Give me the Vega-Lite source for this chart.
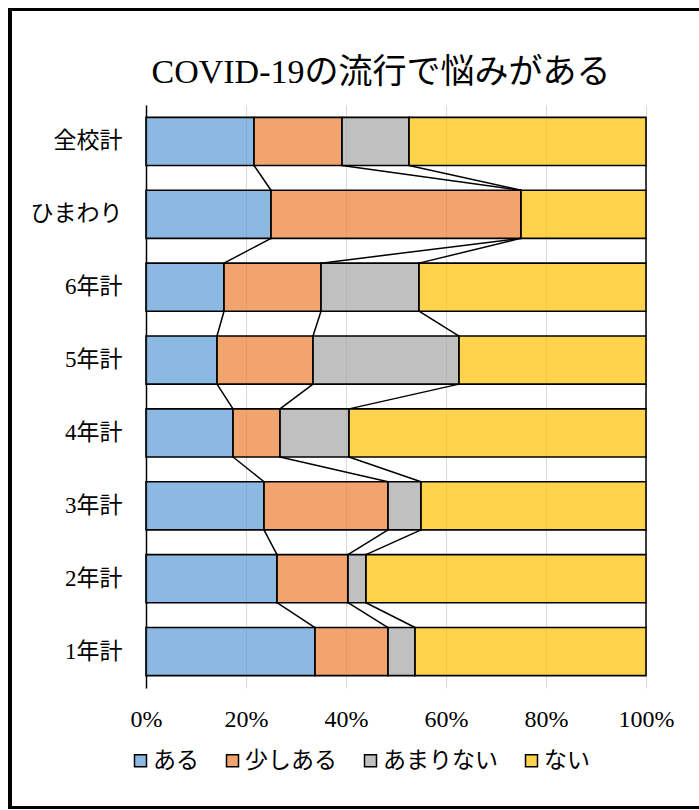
{
  "$schema": "https://vega.github.io/schema/vega-lite/v6.json",
  "width": 500,
  "height": 583,
  "autosize": {"type": "none"},
  "padding": {"left": 146, "top": 105, "right": 53, "bottom": 122},
  "background": "white",
  "title": {
    "text": "COVID-19の流行で悩みがある",
    "font": "Liberation Serif, Noto Sans CJK JP",
    "fontSize": 34,
    "fontWeight": "normal",
    "color": "black",
    "anchor": "middle",
    "dx": -15,
    "offset": -82
  },
  "data": {
    "values": [
      {"cat": "全校計", "ci": 0, "s": "ある", "si": 0, "v": 21.6},
      {"cat": "全校計", "ci": 0, "s": "少しある", "si": 1, "v": 17.6},
      {"cat": "全校計", "ci": 0, "s": "あまりない", "si": 2, "v": 13.4},
      {"cat": "全校計", "ci": 0, "s": "ない", "si": 3, "v": 47.4},
      {"cat": "ひまわり", "ci": 1, "s": "ある", "si": 0, "v": 25},
      {"cat": "ひまわり", "ci": 1, "s": "少しある", "si": 1, "v": 50},
      {"cat": "ひまわり", "ci": 1, "s": "あまりない", "si": 2, "v": 0},
      {"cat": "ひまわり", "ci": 1, "s": "ない", "si": 3, "v": 25},
      {"cat": "6年計", "ci": 2, "s": "ある", "si": 0, "v": 15.6},
      {"cat": "6年計", "ci": 2, "s": "少しある", "si": 1, "v": 19.4},
      {"cat": "6年計", "ci": 2, "s": "あまりない", "si": 2, "v": 19.6},
      {"cat": "6年計", "ci": 2, "s": "ない", "si": 3, "v": 45.4},
      {"cat": "5年計", "ci": 3, "s": "ある", "si": 0, "v": 14.2},
      {"cat": "5年計", "ci": 3, "s": "少しある", "si": 1, "v": 19.2},
      {"cat": "5年計", "ci": 3, "s": "あまりない", "si": 2, "v": 29.2},
      {"cat": "5年計", "ci": 3, "s": "ない", "si": 3, "v": 37.4},
      {"cat": "4年計", "ci": 4, "s": "ある", "si": 0, "v": 17.4},
      {"cat": "4年計", "ci": 4, "s": "少しある", "si": 1, "v": 9.4},
      {"cat": "4年計", "ci": 4, "s": "あまりない", "si": 2, "v": 13.8},
      {"cat": "4年計", "ci": 4, "s": "ない", "si": 3, "v": 59.4},
      {"cat": "3年計", "ci": 5, "s": "ある", "si": 0, "v": 23.6},
      {"cat": "3年計", "ci": 5, "s": "少しある", "si": 1, "v": 24.8},
      {"cat": "3年計", "ci": 5, "s": "あまりない", "si": 2, "v": 6.6},
      {"cat": "3年計", "ci": 5, "s": "ない", "si": 3, "v": 45.0},
      {"cat": "2年計", "ci": 6, "s": "ある", "si": 0, "v": 26.2},
      {"cat": "2年計", "ci": 6, "s": "少しある", "si": 1, "v": 14.2},
      {"cat": "2年計", "ci": 6, "s": "あまりない", "si": 2, "v": 3.6},
      {"cat": "2年計", "ci": 6, "s": "ない", "si": 3, "v": 56.0},
      {"cat": "1年計", "ci": 7, "s": "ある", "si": 0, "v": 33.8},
      {"cat": "1年計", "ci": 7, "s": "少しある", "si": 1, "v": 14.6},
      {"cat": "1年計", "ci": 7, "s": "あまりない", "si": 2, "v": 5.4},
      {"cat": "1年計", "ci": 7, "s": "ない", "si": 3, "v": 46.2}
    ]
  },
  "config": {
    "view": {"stroke": null},
    "font": "Liberation Serif, Noto Sans CJK JP"
  },
  "layer": [
    {
      "layer": [
        {
          "mark": {"type": "bar", "stroke": "black", "strokeWidth": 1.6, "fillOpacity": 0.7},
          "encoding": {
            "y": {
              "field": "cat",
              "type": "nominal",
              "sort": ["全校計", "ひまわり", "6年計", "5年計", "4年計", "3年計", "2年計", "1年計"],
              "scale": {"paddingInner": 0.34, "paddingOuter": 0.17},
              "axis": {
                "title": null,
                "ticks": false,
                "tickSize": 0,
                "labelPadding": 24,
                "labelFontSize": 23,
                "labelColor": "black",
                "labelFont": "Liberation Serif, Noto Sans CJK JP",
                "domainColor": "black",
                "domainWidth": 1.5
              }
            },
            "x": {
              "field": "v",
              "type": "quantitative",
              "stack": "zero",
              "scale": {"domain": [0, 100], "nice": false},
              "axis": {
                "title": null,
                "values": [0, 20, 40, 60, 80, 100],
                "labelExpr": "datum.value + '%'",
                "labelFlush": false,
                "domain": false,
                "ticks": false,
                "tickSize": 0,
                "labelPadding": 19,
                "labelFontSize": 24,
                "labelColor": "black",
                "labelFont": "Liberation Serif, Noto Sans CJK JP",
                "grid": true,
                "gridColor": "#D9D9D9",
                "gridWidth": 1
              }
            },
            "color": {
              "field": "s",
              "type": "nominal",
              "scale": {
                "domain": ["ある", "少しある", "あまりない", "ない"],
                "range": ["#5B9BD5", "#ED7D31", "#A5A5A5", "#FFC000"]
              },
              "legend": {
                "title": null,
                "orient": "none",
                "legendX": -17,
                "legendY": 644,
                "direction": "horizontal",
                "columns": 4,
                "padding": 0,
                "symbolType": "square",
                "symbolSize": 144,
                "symbolStrokeColor": "black",
                "symbolStrokeWidth": 1.5,
                "labelFontSize": 23,
                "labelColor": "black",
                "labelFont": "Liberation Serif, Noto Sans CJK JP",
                "labelOffset": 1,
                "columnPadding": 22,
                "encode": {"symbols": {"update": {"fillOpacity": {"value": 0.7}}}}
              }
            },
            "order": {"field": "si"}
          }
        },
        {
          "transform": [
            {"stack": "v", "groupby": ["cat"], "sort": [{"field": "si"}], "as": ["c0", "c1"]},
            {
              "window": [
                {"op": "lead", "field": "c1", "as": "c1n"},
                {"op": "lead", "field": "cat", "as": "catn"}
              ],
              "groupby": ["s"],
              "sort": [{"field": "ci"}]
            },
            {"filter": "datum.catn != null"}
          ],
          "mark": {"type": "rule", "color": "black", "strokeWidth": 1.5},
          "encoding": {
            "x": {"field": "c1", "type": "quantitative"},
            "x2": {"field": "c1n"},
            "y": {
              "field": "cat",
              "type": "nominal",
              "sort": ["全校計", "ひまわり", "6年計", "5年計", "4年計", "3年計", "2年計", "1年計"],
              "bandPosition": 1
            },
            "y2": {"field": "catn", "bandPosition": 0}
          }
        }
      ]
    },
    {
      "mark": {"type": "rect", "fill": "transparent", "stroke": "black", "strokeWidth": 3, "clip": false},
      "encoding": {
        "x": {"datum": -27.2, "type": "quantitative"},
        "x2": {"datum": 112},
        "y": {"datum": 1.1638, "type": "quantitative", "scale": {"domain": [0, 1], "nice": false, "zero": false}, "axis": null},
        "y2": {"datum": -0.205}
      }
    }
  ],
  "resolve": {"scale": {"y": "independent"}, "axis": {"y": "independent"}}
}
